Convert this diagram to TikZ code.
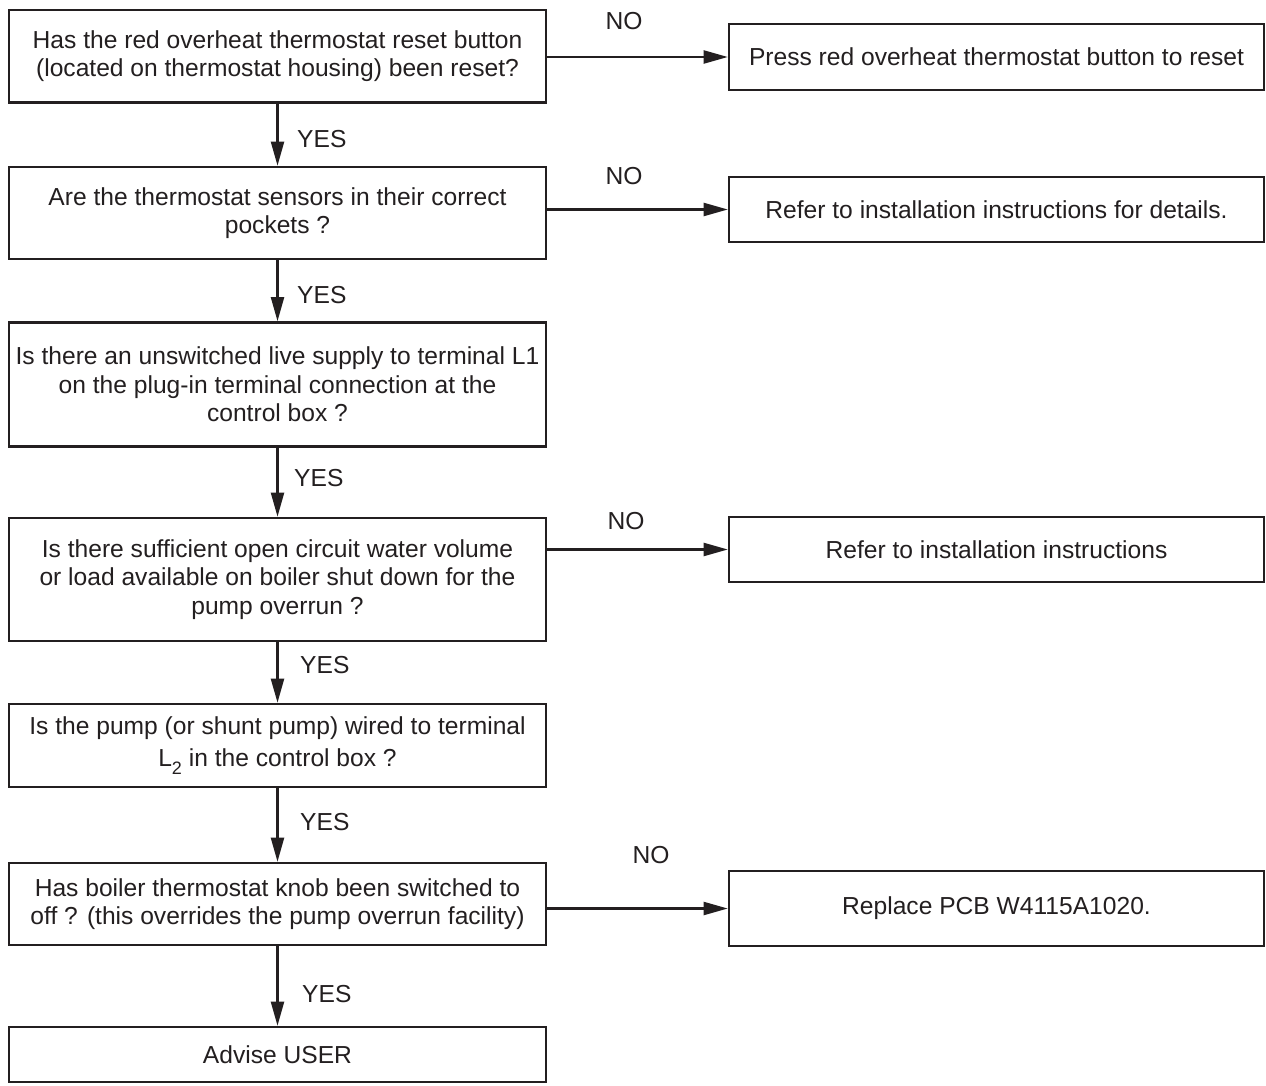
\documentclass[tikz,border=0pt]{standalone}
\usepackage{fontspec}
\setmainfont{Liberation Sans}
\usetikzlibrary{arrows.meta}
\definecolor{ink}{HTML}{231F20}
\begin{document}
\begin{tikzpicture}[x=1pt,y=-1pt,
  box/.style={draw=ink, line width=2.6pt, align=center, inner sep=0pt, text=ink,
    font=\fontsize{24.6}{28.5}\selectfont},
  lbox/.style={box, minimum width=537pt},
  rbox/.style={box, minimum width=535pt},
  conn/.style={draw=ink, line width=2.1pt, -{Triangle[length=24pt,width=13pt]}},
  lbl/.style={font=\fontsize{24.6}{28}\selectfont, text=ink, inner sep=0pt}]
\useasboundingbox (0,0) rectangle (1266,1086);
\fill[white] (0,0) rectangle (1266,1086);

% left column
\node[lbox, minimum height=92.5pt] (b1) at (277.5,56.25)
  {Has the red overheat thermostat reset button\\(located on thermostat housing) been reset?};
\node[lbox, minimum height=92pt] (b2) at (277.5,213)
  {Are the thermostat sensors in their correct\\pockets ?};
\node[lbox, minimum height=124pt] (b3) at (277.5,384.5)
  {Is there an unswitched live supply to terminal L1\\on the plug-in terminal connection at the\\control box ?};
\node[lbox, minimum height=123pt] (b4) at (277.5,579.5)
  {Is there sufficient open circuit water volume\\or load available on boiler shut down for the\\pump overrun ?};
\node[lbox, minimum height=83pt] (b5) at (277.5,745.5)
  {Is the pump (or shunt pump) wired to terminal\\[4pt]L\raisebox{-0.3em}{\fontsize{18}{18}\selectfont 2} in the control box ?};
\node[lbox, minimum height=82pt] (b6) at (277.5,904)
  {Has boiler thermostat knob been switched to\\off ? (this overrides the pump overrun facility)};
\node[lbox, minimum height=55pt] (b7) at (277.5,1054.5)
  {Advise USER};

% right column
\node[rbox, minimum height=66pt] (r1) at (996.5,57)
  {Press red overheat thermostat button to reset};
\node[rbox, minimum height=65pt] (r2) at (996.5,209.5)
  {Refer to installation instructions for details.};
\node[rbox, minimum height=65pt] (r3) at (996.5,549.5)
  {Refer to installation instructions};
\node[rbox, minimum height=75pt] (r4) at (996.5,908.5)
  {Replace PCB W4115A1020.};

% YES arrows
\draw[conn] (b1.south) -- (b2.north);
\draw[conn] (b2.south) -- (b3.north);
\draw[conn] (b3.south) -- (b4.north);
\draw[conn] (b4.south) -- (b5.north);
\draw[conn] (b5.south) -- (b6.north);
\draw[conn] (b6.south) -- (b7.north);

% NO arrows
\draw[conn] (b1.east |- r1.west) -- (r1.west);
\draw[conn] (b2.east |- r2.west) -- (r2.west);
\draw[conn] (b4.east |- r3.west) -- (r3.west);
\draw[conn] (b6.east |- r4.west) -- (r4.west);

% labels
\node[lbl, anchor=west] (y1) at (297,139) {YES};
\node[lbl, anchor=west] (y2) at (297,295.5) {YES};
\node[lbl, anchor=west] (y3) at (294,478) {YES};
\node[lbl, anchor=west] (y4) at (300,665) {YES};
\node[lbl, anchor=west] (y5) at (300,822) {YES};
\node[lbl, anchor=west] (y6) at (302,994) {YES};
\node[lbl] (n1) at (624,21) {NO};
\node[lbl] (n2) at (624,176) {NO};
\node[lbl] (n3) at (626,521) {NO};
\node[lbl] (n4) at (651,855) {NO};
\end{tikzpicture}
\end{document}
